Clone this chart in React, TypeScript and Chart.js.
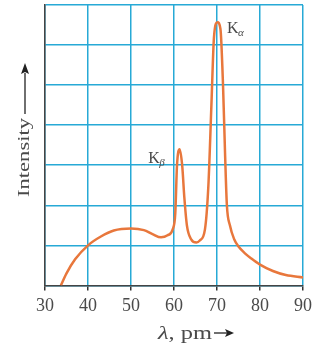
import React, { useEffect, useRef } from "react";
import { Chart, registerables } from "chart.js";

Chart.register(...registerables);

const wavelengths = [33.7, 35, 37, 40, 43, 46, 50, 53, 55, 57, 58.5, 59.7, 60.3, 60.7, 61.3, 61.9, 62.4, 63, 64, 65.2, 66, 67.2, 68, 68.7, 69.3, 70.1, 70.8, 71.4, 71.9, 72.3, 73, 74, 75, 76.5, 78, 80, 83, 86, 90];
const intensity = [0, 0.3, 0.65, 1.0, 1.22, 1.37, 1.42, 1.38, 1.28, 1.2, 1.25, 1.4, 1.8, 3.0, 3.4, 3.0, 2.2, 1.5, 1.15, 1.07, 1.12, 1.4, 2.5, 4.5, 6.2, 6.57, 6.4, 5.0, 3.2, 2.0, 1.5, 1.15, 0.97, 0.8, 0.67, 0.52, 0.36, 0.26, 0.2];
const xTicks = [30, 40, 50, 60, 70, 80, 90];
const peakLabels = [
  { main: "K", sub: "α", x: 72.3, y: 6.3 },
  { main: "K", sub: "β", x: 54.0, y: 3.05 },
];
const yAxisTitle = "Intensity";
const xAxisTitleGreek = "λ";
const xAxisTitleRest = ", pm";

const SERIF = '"Liberation Serif", "DejaVu Serif", serif';
const TEXT = "#4a4a4a";

const annotPlugin = {
  id: "annot",
  afterDraw(chart: any) {
    const ctx = chart.ctx;
    const xs = chart.scales.x;
    const ys = chart.scales.y;
    ctx.save();
    ctx.fillStyle = TEXT;
    ctx.textBaseline = "alphabetic";
    for (const p of peakLabels) {
      const px = xs.getPixelForValue(p.x);
      const py = ys.getPixelForValue(p.y);
      ctx.font = `16px ${SERIF}`;
      ctx.textAlign = "left";
      ctx.fillText(p.main, px, py);
      const w = ctx.measureText(p.main).width;
      ctx.font = `italic 11px ${SERIF}`;
      ctx.fillText(p.sub, px + w - 0.5, py + 3);
    }
    // y axis title with arrow
    const cx = 25;
    const textBottom = 197;
    const targetLen = 79;
    ctx.save();
    ctx.translate(cx, textBottom);
    ctx.rotate(-Math.PI / 2);
    ctx.font = `17px ${SERIF}`;
    ctx.textAlign = "left";
    ctx.textBaseline = "middle";
    const tw0 = ctx.measureText(yAxisTitle).width;
    ctx.save();
    ctx.scale(targetLen / tw0, 1);
    ctx.fillText(yAxisTitle, 0, 0);
    ctx.restore();
    const tw = targetLen;
    ctx.strokeStyle = "#222";
    ctx.lineWidth = 1.3;
    ctx.beginPath();
    ctx.moveTo(tw + 4, 0);
    ctx.lineTo(124, 0);
    ctx.stroke();
    ctx.fillStyle = "#222";
    ctx.beginPath();
    ctx.moveTo(134, 0);
    ctx.lineTo(123, -4);
    ctx.lineTo(125, 0);
    ctx.lineTo(123, 4);
    ctx.closePath();
    ctx.fill();
    ctx.restore();
    // x axis title with arrow
    const ty = 339;
    const x0 = 158;
    ctx.fillStyle = TEXT;
    ctx.textAlign = "left";
    ctx.font = `italic 18px ${SERIF}`;
    const gw = ctx.measureText(xAxisTitleGreek).width;
    ctx.font = `18px ${SERIF}`;
    const rw = ctx.measureText(xAxisTitleRest).width;
    const sx = 54 / (gw + rw);
    ctx.save();
    ctx.translate(x0, ty);
    ctx.scale(sx, 1);
    ctx.font = `italic 18px ${SERIF}`;
    ctx.fillText(xAxisTitleGreek, 0, 0);
    ctx.font = `18px ${SERIF}`;
    ctx.fillText(xAxisTitleRest, gw, 0);
    ctx.restore();
    const ax = x0 + 56;
    ctx.strokeStyle = "#222";
    ctx.fillStyle = "#222";
    ctx.lineWidth = 1.3;
    const ay = ty - 6;
    ctx.beginPath();
    ctx.moveTo(ax, ay);
    ctx.lineTo(ax + 14, ay);
    ctx.stroke();
    ctx.beginPath();
    ctx.moveTo(ax + 20, ay);
    ctx.lineTo(ax + 11, ay - 4);
    ctx.lineTo(ax + 13, ay);
    ctx.lineTo(ax + 11, ay + 4);
    ctx.closePath();
    ctx.fill();
    ctx.restore();
  },
};

export default function App() {
  const ref = useRef<HTMLCanvasElement>(null);
  useEffect(() => {
    if (!ref.current) return;
    const chart = new Chart(ref.current, {
      type: "line",
      data: {
        datasets: [
          {
            data: wavelengths.map((x, i) => ({ x, y: intensity[i] })),
            borderColor: "#e8773c",
            borderWidth: 2.5,
            pointRadius: 0,
            cubicInterpolationMode: "monotone",
            fill: false,
          },
        ],
      },
      options: {
        responsive: false,
        animation: false,
        layout: { padding: { left: 45, right: 20, top: 5, bottom: 24 } },
        plugins: { legend: { display: false }, tooltip: { enabled: false } },
        scales: {
          x: {
            type: "linear",
            min: 30,
            max: 90,
            afterBuildTicks: (s: any) => {
              s.ticks = xTicks.map((v) => ({ value: v }));
            },
            grid: {
              color: "#27a9d6",
              lineWidth: 1.5,
              tickColor: "#333",
              tickLength: 5,
            },
            border: { color: "#444", width: 1.5 },
            ticks: {
              color: TEXT,
              font: { family: SERIF, size: 18 },
              padding: 5,
              maxRotation: 0,
            },
          },
          y: {
            min: 0,
            max: 7,
            ticks: { display: false, stepSize: 1 },
            grid: { color: "#27a9d6", lineWidth: 1.5, drawTicks: false },
            border: { color: "#444", width: 1.5 },
          },
        },
      },
      plugins: [annotPlugin],
    });
    return () => chart.destroy();
  }, []);
  return (
    <div style={{ position: "absolute", left: 0, top: 0, width: 323, height: 346, background: "#fff" }}>
      <canvas ref={ref} width={323} height={346} style={{ width: 323, height: 346 }} />
    </div>
  );
}
